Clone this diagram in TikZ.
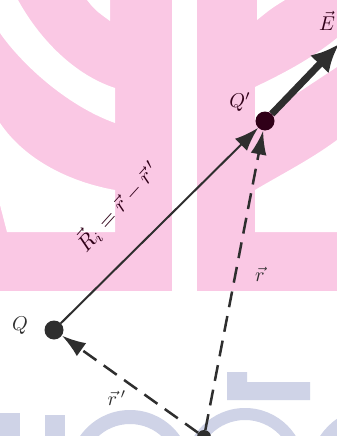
\documentclass[tikz,border=0pt]{standalone}
\usetikzlibrary{arrows.meta}
\definecolor{wmpink}{RGB}{250,200,228}
\definecolor{wmblue}{RGB}{207,211,231}
\definecolor{ink}{RGB}{46,46,46}
\definecolor{inkp}{RGB}{48,0,24}
\begin{document}
\begin{tikzpicture}[x=1pt,y=-1pt,
  dot/.style={circle,fill=ink,inner sep=0pt,minimum size=19pt},
  lbl/.style={scale=2.0, text=ink, inner sep=0pt},
  solidarrow/.style={draw=ink, line width=2pt, -{Latex[length=24pt,width=17pt]}},
  dasharrow/.style={draw=ink, line width=2.5pt, dash pattern=on 16pt off 9pt, -{Latex[length=24pt,width=16pt]}},
  earrow/.style={draw=ink, line width=7pt, -{Latex[length=28pt,width=26pt]}}]
\useasboundingbox (0,0) rectangle (337,436);
% watermark
\fill[white] (0,0) rectangle (337,436);
\fill[wmpink] (0,0) rectangle (172,291);
\fill[wmpink] (197,0) rectangle (337,291);
\fill[white] (0,0) -- (18,0) .. controls (40,40) and (75,75) .. (115,88) -- (115,123) .. controls (65,105) and (20,62) .. (0,33) -- cycle;
\fill[white] (87,0) .. controls (95,10) .. (110,21) -- (110,0) -- cycle;
\fill[white] (0,123) .. controls (25,160) and (70,182) .. (115,190) -- (115,232) -- (7,232) -- (0,205) -- cycle;
\fill[white] (257,0) -- (285,0) .. controls (272,8) .. (257,20) -- cycle;
\fill[white] (255,87) .. controls (280,75) and (310,60) .. (337,38) -- (337,67) .. controls (305,88) and (280,105) .. (255,120) -- cycle;
\fill[white] (255,190) .. controls (280,175) and (310,160) .. (337,140) -- (337,232) -- (255,232) -- cycle;
\fill[wmblue] (227,372) -- (247,372) -- (247,382) -- (310,382) -- (310,400) -- (227,400) -- cycle;
\fill[wmblue] (0,413) rectangle (20,436);
\fill[wmblue] (45,415) rectangle (65,436);
\fill[wmblue, even odd rule] (130,471) circle (61) (130,471) circle (47);
\fill[wmblue, even odd rule] (245,468) circle (60) (245,468) circle (48);
\fill[wmblue, even odd rule] (372,470) circle (62) (372,470) circle (48);
% diagram
\node[dot] (Q) at (54,330) {};
\node[dot, fill=inkp] (Qp) at (265,121) {};
\node[dot, minimum size=14pt] (O) at (204,437) {};
\coordinate (Etip) at (339,44);
\draw[earrow] (Qp) -- (Etip);
\draw[solidarrow] (Q) -- (Qp);
\draw[dasharrow] (O) -- (Qp);
\draw[dasharrow] (O) -- (Q);
\node[lbl] (lQ) at (20,326) {$Q$};
\node[lbl, text=inkp] (lQp) at (240,102) {$Q'$};
\node[lbl, text=inkp] (lE) at (327,21) {$\vec{E}$};
\node[lbl] (lr) at (260,274) {$\vec{r}$};
\node[lbl] (lrp) at (117,398) {$\vec{r}\,'$};
\node[lbl, scale=1.1, text=inkp, rotate=48] (lR) at (117,206) {$\vec{R}_i=\vec{r}-\vec{r}\,'$};
\end{tikzpicture}
\end{document}
